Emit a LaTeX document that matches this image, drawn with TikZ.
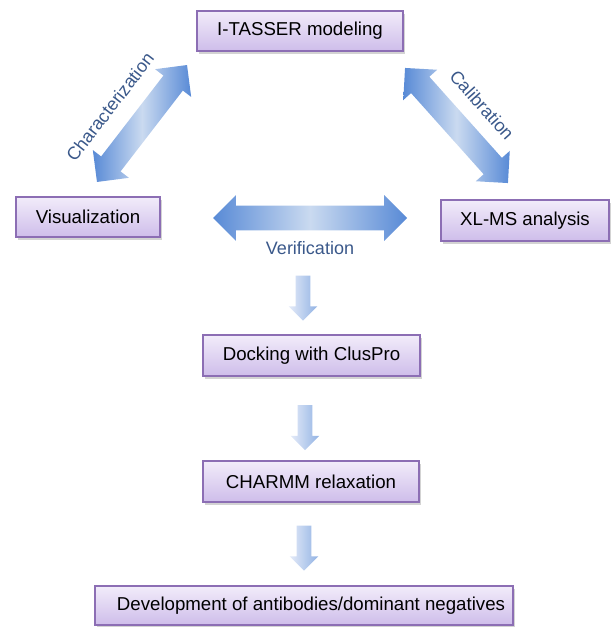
\documentclass[tikz,border=0pt]{standalone}
\usepackage{fontspec}
\setmainfont{Liberation Sans}
\usetikzlibrary{positioning, shapes.arrows, shadows}

\newcommand{\PX}{0.75pt}
\definecolor{boxtop}{RGB}{242,236,250}
\definecolor{boxbottom}{RGB}{206,189,234}
\definecolor{boxedge}{RGB}{140,110,180}
\definecolor{arrowdark}{RGB}{88,138,214}
\definecolor{arrowlight}{RGB}{202,218,240}
\definecolor{downtop}{RGB}{228,235,248}
\definecolor{downbottom}{RGB}{146,178,228}
\definecolor{lbltext}{RGB}{58,88,138}

\tikzset{
  stepbox/.style={draw=boxedge, line width=0.9pt, top color=boxtop, bottom color=boxbottom,
    drop shadow={shadow xshift=1.2pt, shadow yshift=-2pt, opacity=0.35},
    font=\fontsize{14}{16}\selectfont, minimum height=40*\PX, inner sep=0pt},
  twoway/.style={double arrow, draw=none, inner xsep=0pt, inner ysep=12*\PX,
    double arrow head extend=10.5*\PX, left color=arrowdark, right color=arrowdark,
    middle color=arrowlight},
  oneway/.style={single arrow, draw=none, rotate=-90, inner xsep=0pt, inner ysep=7*\PX,
    single arrow head extend=7*\PX, minimum height=45*\PX,
    left color=downtop, right color=downbottom},
  lbl/.style={text=lbltext, font=\fontsize{13.5}{15}\selectfont}
}

\begin{document}
\begin{tikzpicture}[x=\PX, y=-\PX]
    \useasboundingbox (0,0) rectangle (610,627);

    % the three corners
    \node[stepbox, minimum width=206*\PX] (itasser) at (300,31) {I-TASSER modeling};
    \node[stepbox, minimum width=144*\PX] (visual) at (88,217) {Visualization};
    \node[stepbox, minimum width=168*\PX, minimum height=41*\PX] (xlms) at (525,220.5) {XL-MS analysis};

    % two-way arrows with labels
    \node[twoway, rotate=52.4, minimum height=147.6*\PX] (charArrow) at (142,123.5) {};
    \node[lbl, rotate=52.4] (charLbl) at (110,107) {Characterization};
    \node[twoway, rotate=-48.2, minimum height=154.4*\PX] (calArrow) at (456.5,125.5) {};
    \node[lbl, rotate=-48.2] (calLbl) at (482,105) {Calibration};
    \node[twoway, minimum height=194*\PX] (verArrow) at (310,218) {};
    \node[lbl] (verLbl) at (310,248) {Verification};

    % the pipeline below
    \node[oneway] (down1) at (303,294.5) {};
    \node[stepbox, minimum width=217*\PX, minimum height=41*\PX] (docking) at (311.5,355.5) {Docking with ClusPro};
    \node[oneway] (down2) at (305,424) {};
    \node[stepbox, minimum width=216*\PX, minimum height=41*\PX] (charmm) at (311,481.5) {CHARMM relaxation};
    \node[oneway] (down3) at (304,544.5) {};
    \node[stepbox, minimum width=418*\PX, minimum height=39*\PX] (develop) at (304,605.5) {\hspace{10.5pt}Development of antibodies/dominant negatives};
\end{tikzpicture}
\end{document}
